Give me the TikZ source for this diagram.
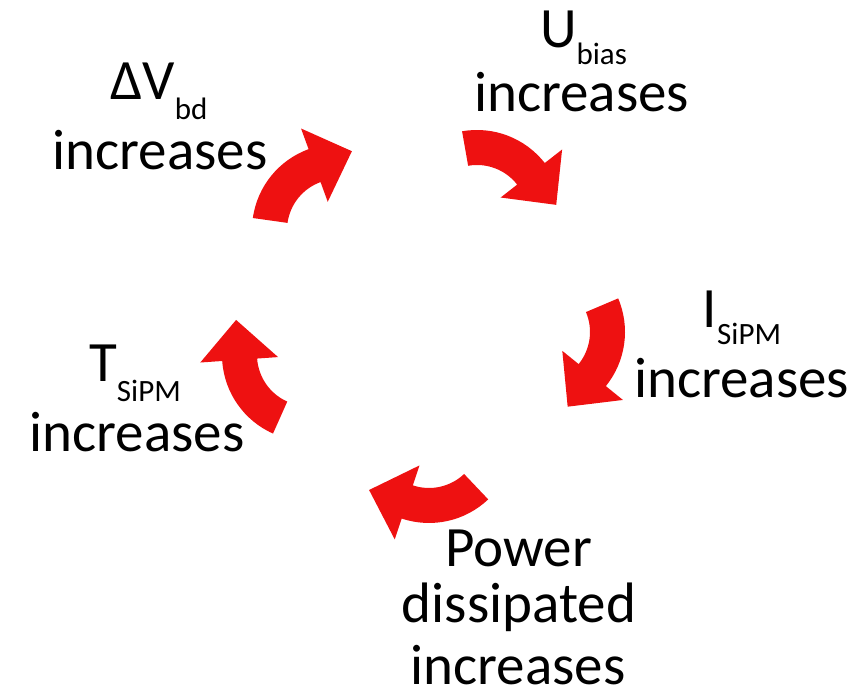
\documentclass[tikz,border=0pt]{standalone}
\usepackage{fontspec}
\setmainfont{Carlito}
\definecolor{arrowred}{RGB}{238,17,17}
\newcommand{\sbx}[2]{\raisebox{-#1pt}{\fontsize{31}{31}\selectfont #2}}
\newcommand{\cycarrow}[3]{%
  \pgfmathsetmacro\aS{#3}%
  \pgfmathsetmacro\aN{#3-62}%
  \pgfmathsetmacro\aT{#3-92}%
  \begin{scope}[shift={(#1,#2)}]
    \fill[arrowred] (\aS:86pt) arc[start angle=\aS, end angle=\aN, radius=86pt]
      -- (\aN:108pt) -- (\aT:80pt) -- (\aN:30pt) -- (\aN:51pt)
      arc[start angle=\aN, end angle=\aS, radius=51pt] -- cycle;
  \end{scope}}
\begin{document}
\begin{tikzpicture}[x=1pt,y=1pt,
  lbl/.style={anchor=base, inner sep=0pt, outer sep=0pt, text=black,
    font=\fontsize{57}{68}\selectfont}]
\useasboundingbox (0,0) rectangle (860,690);
% arrows
\cycarrow{338}{460}{172}
\cycarrow{477}{474}{100}
\cycarrow{539}{358}{23}
\cycarrow{429}{253}{-46.5}
\cycarrow{308}{335}{-114}
% labels
\node[lbl] (dv1) at (159,590) {ΔV\sbx{20}{bd}};
\node[lbl] (dv2) at (160,520) {increases};
\node[lbl] (ub1) at (583.5,642) {U\sbx{17}{bias}};
\node[lbl] (ub2) at (581.5,578) {increases};
\node[lbl] (is1) at (742,362) {I\sbx{17}{SiPM}};
\node[lbl] (is2) at (741.5,292) {increases};
\node[lbl] (ts1) at (135,308) {T\sbx{20}{SiPM}};
\node[lbl] (ts2) at (137,238) {increases};
\node[lbl] (pw1) at (518.5,123) {Power};
\node[lbl] (pw2) at (519,67) {dissipated};
\node[lbl] (pw3) at (518,5) {increases};
\end{tikzpicture}
\end{document}
